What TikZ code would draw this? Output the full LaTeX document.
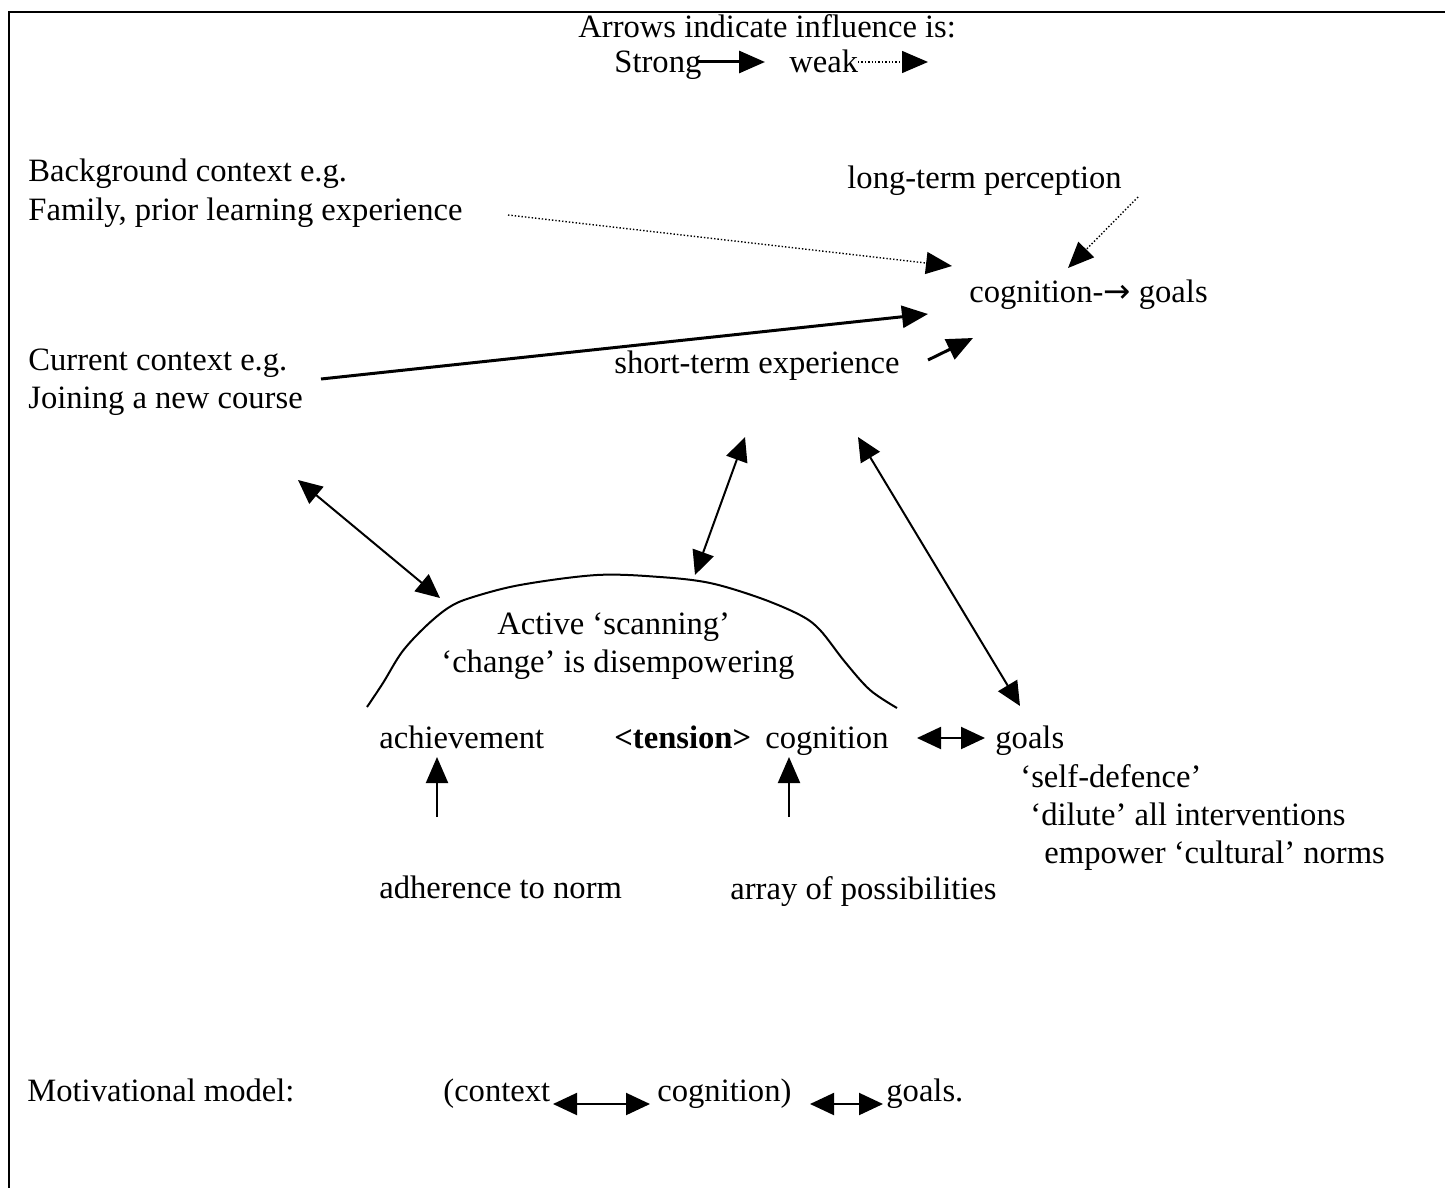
\documentclass[tikz,border=0pt]{standalone}
\usepackage{fontspec}
\setmainfont{Liberation Serif}
\newfontfamily\arrowfont{DejaVu Sans}
\usetikzlibrary{arrows.meta,positioning}

\begin{document}
\begin{tikzpicture}[x=0.5pt,y=-0.5pt,
  txt/.style={inner sep=0pt,anchor=base west,font=\fontsize{16.3}{19.5}\selectfont},
  strong/.style={line width=1.5pt,-{Triangle[length=13pt,width=11pt]}},
  weak/.style={line width=0.7pt,densely dotted,-{Triangle[length=13pt,width=11pt]}},
  mutual/.style={line width=1pt,{Triangle[length=12pt,width=11pt]}-{Triangle[length=12pt,width=11pt]}}]

  \useasboundingbox (0,0) rectangle (1445,1188);
  \draw[line width=1pt] (1445,12) -- (9,12) -- (9,1188);

  % key
  \node[txt] (key)    at (578,38)  {Arrows indicate influence is:};
  \node[txt] (strong) at (614,73)  {Strong};
  \node[txt] (weak)   at (789,73)  {weak};
  \coordinate (strong-start) at (698,62);
  \coordinate (strong-tip)   at (765,62);
  \coordinate (weak-start)   at (858,62);
  \coordinate (weak-tip)     at (928,62);
  \draw[strong] (strong-start) -- (strong-tip);
  \draw[weak]   (weak-start) -- (weak-tip);

  % contexts
  \node[txt] (bg1)  at (28,181)  {Background context e.g.};
  \node[txt] (bg2)  at (28,220)  {Family, prior learning experience};
  \node[txt] (cur1) at (28,370)  {Current context e.g.};
  \node[txt] (cur2) at (28,408)  {Joining a new course};
  \node[txt] (long)  at (847,188) {long-term perception};
  \node[txt] (cog)   at (969,302) {cognition-{\arrowfont →} goals};
  \node[txt] (short) at (614,373) {short-term experience};

  % dome
  \draw[line width=1pt] plot[smooth,tension=0.55] coordinates {(367,707) (383,683) (402,652) (425,627) (448,608) (470,598) (520,585) (597,575) (660,577) (710,583) (760,598) (800,615) (820,630) (845,662) (870,690) (897,708)};
  \node[txt] (scan)   at (497,634) {Active `scanning'};
  \node[txt] (change) at (441,672) {`change' is disempowering};

  \node[txt] (ach)     at (379,748) {achievement};
  \node[txt] (tension) at (614,748) {\textbf{<tension>}};
  \node[txt] (cogn)    at (765,748) {cognition};
  \node[txt] (goals)   at (995,748) {goals};
  \node[txt] (def)     at (1020,787) {`self-defence'};
  \node[txt] (dil)     at (1030,825) {`dilute' all interventions};
  \node[txt] (emp)     at (1044,863) {empower `cultural' norms};
  \node[txt] (adh)     at (379,898) {adherence to norm};
  \node[txt] (arr)     at (730,899) {array of possibilities};

  % model
  \node[txt] (model)  at (27,1101)  {Motivational model:};
  \node[txt] (mctx)   at (443,1101) {(context};
  \node[txt] (mcog)   at (657,1101) {cognition)};
  \node[txt] (mgoals) at (886,1101) {goals.};

  % connector ends
  \coordinate (bg-e)   at (508,215);
  \coordinate (bg-t)   at (952,266);
  \coordinate (long-e) at (1138,197);
  \coordinate (long-t) at (1068,268);
  \coordinate (cur-e)  at (321,379);
  \coordinate (cur-t)  at (928,314);
  \coordinate (short-e) at (928,360);
  \coordinate (short-t) at (973,338);
  \coordinate (ctx-a)  at (298,480);
  \coordinate (ctx-b)  at (440,598);
  \coordinate (st-a)   at (745,437);
  \coordinate (st-b)   at (695,575);
  \coordinate (sg-a)   at (858,437);
  \coordinate (sg-b)   at (1020,706);
  \coordinate (cg-a)   at (917,738);
  \coordinate (cg-b)   at (985,738);
  \coordinate (adh-e)  at (437,817);
  \coordinate (adh-t)  at (437,757);
  \coordinate (arr-e)  at (789,817);
  \coordinate (arr-t)  at (789,757);
  \coordinate (m1-a)   at (553,1104);
  \coordinate (m1-b)   at (650,1104);
  \coordinate (m2-a)   at (810,1104);
  \coordinate (m2-b)   at (883,1104);

  \draw[weak]   (bg-e) -- (bg-t);
  \draw[weak]   (long-e) -- (long-t);
  \draw[strong] (cur-e) -- (cur-t);
  \draw[strong] (short-e) -- (short-t);
  \draw[mutual] (ctx-a) -- (ctx-b);
  \draw[mutual] (st-a) -- (st-b);
  \draw[mutual] (sg-a) -- (sg-b);
  \draw[mutual] (cg-a) -- (cg-b);
  \draw[strong,line width=1pt] (adh-e) -- (adh-t);
  \draw[strong,line width=1pt] (arr-e) -- (arr-t);
  \draw[mutual] (m1-a) -- (m1-b);
  \draw[mutual] (m2-a) -- (m2-b);
\end{tikzpicture}
\end{document}
